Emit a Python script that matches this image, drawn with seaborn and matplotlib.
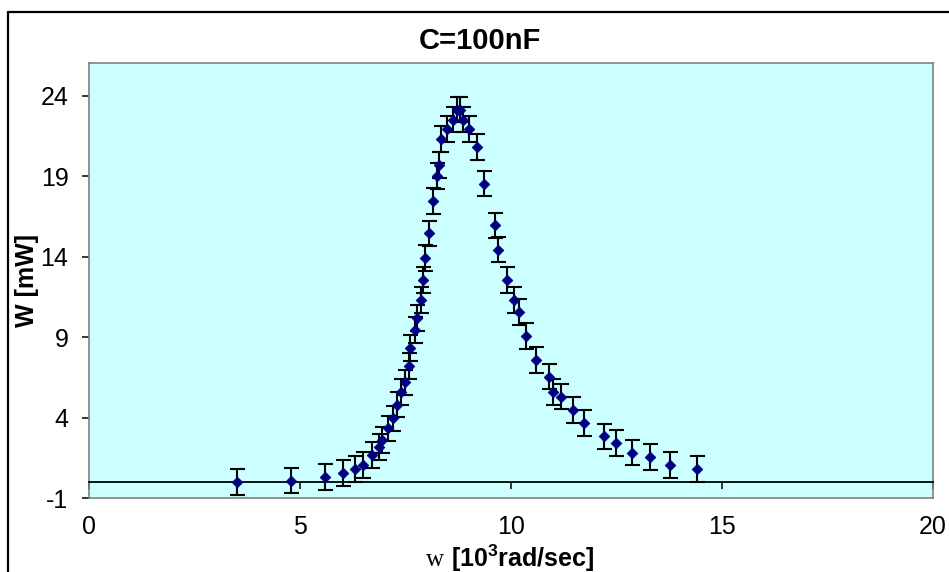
import numpy as np
import pandas as pd
import matplotlib
matplotlib.use("Agg")
import matplotlib.pyplot as plt
from matplotlib.lines import Line2D
import seaborn as sns

# ---- data ----
omega = [3.51, 4.78, 5.58, 6.01, 6.30, 6.49, 6.71, 6.87, 6.95, 7.09, 7.20, 7.29,
         7.38, 7.48, 7.57, 7.60, 7.72, 7.77, 7.87, 7.91, 7.95, 8.05, 8.14, 8.24,
         8.29, 8.34, 8.49, 8.63, 8.71, 8.80, 8.86, 9.00, 9.19, 9.37, 9.61, 9.70,
         9.90, 10.08, 10.19, 10.35, 10.60, 10.89, 10.99, 11.18, 11.46, 11.74,
         12.21, 12.50, 12.87, 13.30, 13.77, 14.40]
power = [0.02, 0.10, 0.34, 0.57, 0.82, 1.09, 1.70, 2.17, 2.63, 3.34, 3.96, 4.82,
         5.58, 6.19, 7.19, 8.33, 9.43, 10.18, 11.30, 12.57, 13.94, 15.44, 17.44, 19.01,
         19.68, 21.29, 21.93, 22.51, 23.13, 23.13, 22.51, 21.93, 20.80, 18.54, 15.94, 14.44,
         12.57, 11.30, 10.56, 9.08, 7.58, 6.56, 5.58, 5.32, 4.46, 3.69,
         2.84, 2.45, 1.84, 1.57, 1.07, 0.82]
power_err = 0.8
x_ticks = [0, 5, 10, 15, 20]
y_ticks = [-1, 4, 9, 14, 19, 24]
title_text = "C=100nF"
y_label = "W [mW]"
x_label = r"$\mathrm{w}\ \mathbf{[10^{3}rad/sec]}$"

# ---- style ----
sns.set_style("white")
plt.rcParams["font.family"] = ["Liberation Sans", "DejaVu Sans"]
plt.rcParams["mathtext.fontset"] = "custom"
plt.rcParams["mathtext.rm"] = "Liberation Serif"
plt.rcParams["mathtext.bf"] = "Liberation Sans:bold"
plt.rcParams["axes.unicode_minus"] = False
plt.rcParams["text.color"] = "black"
plt.rcParams["axes.labelcolor"] = "black"

fig = plt.figure(figsize=(9.49, 5.72), dpi=100, facecolor="white")
ax = fig.add_axes([0.0941, 0.1288, 0.8887, 0.7605])
ax.set_facecolor("#CCFFFF")

df = pd.DataFrame({"omega": omega, "power": power})

ax.errorbar(df["omega"], df["power"], yerr=power_err, fmt="none",
            ecolor="black", elinewidth=1.5, capsize=5.4, capthick=1.5, zorder=2)
sns.scatterplot(data=df, x="omega", y="power", marker="D", s=30,
                color="#000080", edgecolor="#000080", linewidth=0.5,
                zorder=3, ax=ax, legend=False)

ax.set_xlim(0, 20)
ax.set_ylim(-1, 26)
ax.set_xticks(x_ticks)
ax.set_yticks(y_ticks)

for side in ["left", "top", "right"]:
    ax.spines[side].set_color("#808080")
    ax.spines[side].set_linewidth(1.2)
ax.spines["bottom"].set_position(("data", 0))
ax.spines["bottom"].set_color("black")
ax.spines["bottom"].set_linewidth(1.3)

ax.tick_params(axis="x", direction="out", length=5, width=1.1, color="black",
               bottom=True, labelbottom=False)
ax.tick_params(axis="y", direction="out", length=5, width=1.1, color="black",
               left=True, labelsize=18, pad=10, labelcolor="black")

sec = ax.secondary_xaxis(0.0)
sec.set_xticks(x_ticks)
sec.tick_params(length=0, labelsize=18, pad=12, labelcolor="black")
sec.spines["bottom"].set_color("#808080")
sec.spines["bottom"].set_linewidth(1.2)

ax.set_ylabel(y_label, fontsize=18, fontweight="bold")
ax.yaxis.label.set_va("center")
ax.yaxis.set_label_coords(-0.074, 0.5)

ax.set_xlabel(x_label, fontsize=18)
ax.xaxis.label.set_va("center")
ax.xaxis.set_label_coords(0.499, -0.137)

fig.text(0.506, 0.929, title_text, ha="center", va="center",
         fontsize=21, fontweight="bold")

# outer chart border (cropped at right/bottom)
bx = 8 / 949
by = 1 - 12 / 572
fig.add_artist(Line2D([bx, bx], [0, by], transform=fig.transFigure, color="black", lw=1.6))
fig.add_artist(Line2D([bx, 1], [by, by], transform=fig.transFigure, color="black", lw=1.6))

fig.savefig("out.png", dpi=100)
